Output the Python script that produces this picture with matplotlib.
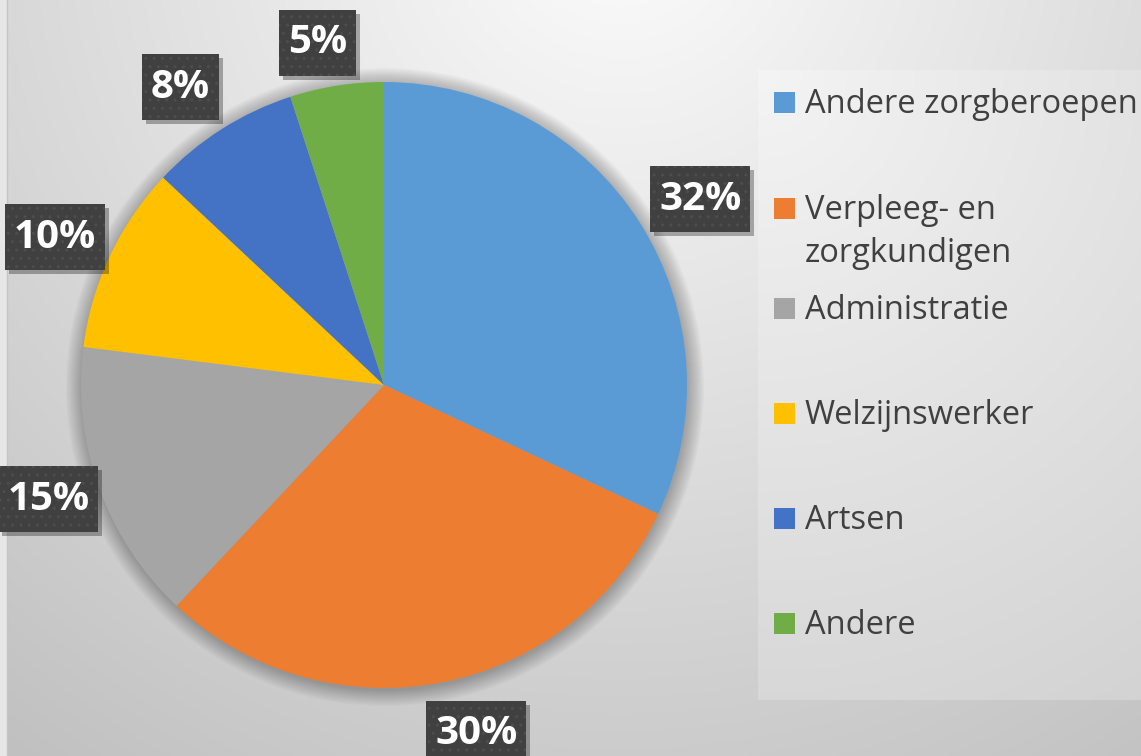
import numpy as np
import matplotlib
matplotlib.use('Agg')
import matplotlib.pyplot as plt
from matplotlib.patches import Rectangle, Circle

categories = ['Andere zorgberoepen', 'Verpleeg- en\nzorgkundigen', 'Administratie',
              'Welzijnswerker', 'Artsen', 'Andere']
values = [32, 30, 15, 10, 8, 5]
colors = ['#5B9BD5', '#ED7D31', '#A5A5A5', '#FFC000', '#4472C4', '#70AD47']

# layout: radial distance of each percentage label (in pie radii)
label_dist = [1.21, 1.19, 1.17, 1.19, 1.19, 1.15]
label_angle_shift = [2, -4, 1, -1, -2, -2]  # degrees, clockwise

W, H = 1141, 756
fig = plt.figure(figsize=(W / 100, H / 100), dpi=100)
ax = fig.add_axes([0, 0, 1, 1])

# background radial gradient
yy, xx = np.mgrid[0:H, 0:W]
d = np.hypot(xx - 620, yy + 80)
bg = np.clip(252 - 0.058 * d, 190, 250) / 255
ax.imshow(np.dstack([bg] * 3), extent=(0, W, 0, H), origin='upper', zorder=0,
          interpolation='bilinear')
ax.add_patch(Rectangle((0, 0), 7, H, facecolor='#e6e6e6', edgecolor='none', zorder=0.5))
ax.plot([7, 7], [0, H], color='#c4c4c4', lw=1, zorder=0.6)

# legend panel
px0, px1, py0, py1 = 758, W, H - 700, H - 70
gy, gx = np.mgrid[0:py1 - py0, 0:px1 - px0]
pg = np.clip(244 - 0.045 * np.hypot(gx, gy), 200, 250) / 255
ax.imshow(np.dstack([pg] * 3), extent=(px0, px1, py0, py1), origin='upper', zorder=0.7,
          interpolation='bilinear')

cx, cy, R = 384, H - 385, 303
for k in range(14):
    ax.add_patch(Circle((cx + 1, cy - 2), R + 16 - k * 1.2, facecolor='black',
                        edgecolor='none', alpha=0.018, zorder=1))

wedges, texts, autotexts = ax.pie(
    values, colors=colors, startangle=90, counterclock=False,
    center=(cx, cy), radius=R, frame=True, autopct='%.0f%%', pctdistance=1.19,
    wedgeprops=dict(linewidth=0, zorder=2),
    textprops=dict(color='white', fontsize=29, fontweight='bold',
                   family='Open Sans', zorder=5))

ax.set_xlim(0, W)
ax.set_ylim(0, H)
ax.set_aspect('equal')
ax.axis('off')

for w_, t, f, s in zip(wedges, autotexts, label_dist, label_angle_shift):
    ang = np.deg2rad((w_.theta1 + w_.theta2) / 2 - s)
    t.set_position((cx + f * R * np.cos(ang), cy + f * R * np.sin(ang)))
    t.set_ha('center'); t.set_va('center')

fig.canvas.draw()
ren = fig.canvas.get_renderer()
for t in autotexts:
    bb = t.get_window_extent(ren)
    x, y = t.get_position()
    w = bb.width + 18
    h = 66
    ax.add_patch(Rectangle((x - w / 2 + 4, y - h / 2 - 4), w, h, facecolor='black',
                           alpha=0.3, edgecolor='none', zorder=3))
    ax.add_patch(Rectangle((x - w / 2, y - h / 2), w, h, facecolor='#404040',
                           edgecolor='#4d4d4d', linewidth=0, hatch='..', zorder=4))

# legend
legend_y = [102, 208, 308, 413, 518, 623]
line_step = 43
for lab, col, ly in zip(categories, colors, legend_y):
    yd = H - ly
    ax.add_patch(Rectangle((774, yd - 10.5), 21, 21, facecolor=col, edgecolor='none', zorder=5))
    for j, line in enumerate(lab.split('\n')):
        ax.text(805, yd - 11 - j * line_step, line, ha='left', va='baseline',
                fontsize=23.5, color='#404040', family='Open Sans', zorder=5)

fig.savefig('out.png', dpi=100)
